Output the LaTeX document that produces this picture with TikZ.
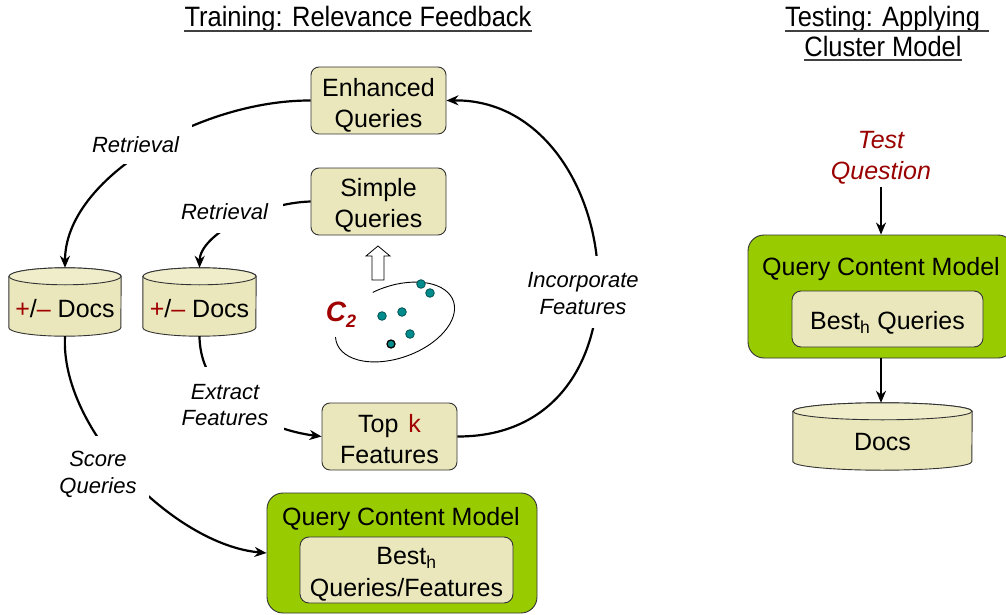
\documentclass[tikz,border=0pt]{standalone}
\usepackage{fontspec}
\setmainfont{Liberation Sans}
\newfontfamily\titlefont[FakeStretch=0.91]{Liberation Sans}
\usetikzlibrary{arrows.meta}
\pgfdeclarelayer{background}
\pgfsetlayers{background,main}

\definecolor{khaki}{RGB}{233,231,187}
\definecolor{khakitop}{RGB}{239,237,202}
\definecolor{qgreen}{RGB}{153,204,0}
\definecolor{dred}{RGB}{160,0,0}
\definecolor{qred}{RGB}{153,0,0}
\definecolor{dotfill}{RGB}{0,140,140}
\definecolor{dotline}{RGB}{0,80,80}

\tikzset{
  boxfont/.style={font=\fontsize{25}{31}\selectfont},
  qbox/.style={boxfont, draw=black!80, line width=0.9pt, fill=khaki,
    rounded corners=8pt, inner sep=0pt,
    minimum width=135pt, minimum height=67pt},
  dbnode/.style={boxfont, inner sep=0pt, text depth=0pt},
  greenbox/.style={draw=black!80, line width=0.9pt, fill=qgreen,
    rounded corners=16pt, inner sep=0pt},
  innerbox/.style={font=\fontsize{25}{32}\selectfont, draw=black!80,
    line width=0.9pt, fill=khaki, rounded corners=9pt, inner sep=0pt},
  gtitle/.style={font=\fontsize{25}{30}\selectfont, inner sep=0pt},
  lab/.style={font=\fontsize{22}{26.5}\selectfont\itshape, fill=white,
    inner sep=0pt},
  conn/.style={line width=2.2pt, -{Stealth[length=12pt,width=10pt]}},
  ttl/.style={font=\titlefont\fontsize{28}{30}\selectfont, inner xsep=0pt,
    inner ysep=0pt, anchor=base},
  uline/.style={draw=black!75, line width=1.3pt},
  dot/.style={fill=dotfill, draw=dotline, line width=0.8pt},
}

% centred lines of text, set a little lower inside their box
\newcommand\lowered[2]{\raisebox{-#1}[\height][\depth]{\begin{tabular}{@{}c@{}}#2\end{tabular}}}

% database cylinder behind a named node; #1 node, #2 half width
\newcommand\dbbody[2]{%
  \begin{pgfonlayer}{background}
    \path[draw=black!80, line width=0.9pt, fill=khaki]
      ([yshift=-8.5pt]#1.north west) -- ([yshift=8.5pt]#1.south west)
      arc[start angle=180, end angle=360, x radius=#2, y radius=8.5pt]
      -- ([yshift=-8.5pt]#1.north east)
      arc[start angle=0, end angle=180, x radius=#2, y radius=8.5pt] -- cycle;
    \path[draw=black!80, line width=0.9pt, fill=khakitop]
      ([yshift=-8.5pt]#1.north) ellipse[x radius=#2, y radius=8.5pt];
  \end{pgfonlayer}}

\begin{document}
\begin{tikzpicture}[x=1pt, y=1pt]
\useasboundingbox (0,0) rectangle (1006,-615);
\clip (0,0) rectangle (1006,-615);

% ---- headings
\node[ttl] (t1) at (358,-27) {Training: Relevance Feedback};
\draw[uline] ([yshift=-4pt]t1.base west) -- ([yshift=-4pt]t1.base east);
\node[ttl] (t2) at (882.5,-27) {Testing: Applying};
\draw[uline] ([yshift=-4pt]t2.base west) -- ([yshift=-4pt,xshift=9pt]t2.base east);
\node[ttl] (t3) at (883,-57) {Cluster Model};
\draw[uline] ([yshift=-3pt]t3.base west) -- ([yshift=-3pt]t3.base east);

% ---- query boxes
\node[qbox] (eq) at (378.5,-100.5) {\lowered{5pt}{Enhanced\\Queries}};
\node[qbox] (sq) at (378.5,-201.5) {\lowered{4pt}{Simple\\Queries}};
\node[qbox] (tk) at (389.5,-436.5)
  {\lowered{5pt}{Top\hspace{10pt}{\color{dred}k}\\Features}};

% ---- document stores
\node[dbnode, minimum width=112pt, minimum height=68pt, text height=30pt]
  (d1) at (65,-302) {{\color{dred}+}/{\color{dred}–} Docs};
\node[dbnode, minimum width=113pt, minimum height=68pt, text height=30pt]
  (d2) at (199.5,-302) {{\color{dred}+}/{\color{dred}–} Docs};
\node[dbnode, minimum width=179pt, minimum height=67pt, text height=28pt]
  (d3) at (882.5,-436.5) {Docs};
\dbbody{d1}{56pt}
\dbbody{d2}{56.5pt}
\dbbody{d3}{89.5pt}

% ---- query content models
\node[greenbox, minimum width=270pt, minimum height=120pt] (qa) at (402,-553) {};
\node[gtitle] (qat) at (401,-519) {Query Content Model};
\node[innerbox, minimum width=213pt, minimum height=66pt] (qai) at (406.5,-570)
  {\lowered{3.7pt}{Best\textsubscript{h}\\Queries/Features}};

\node[greenbox, minimum width=266pt, minimum height=123pt] (qb) at (881,-296.5) {};
\node[gtitle] (qbt) at (881,-269) {Query Content Model};
\node[innerbox, minimum width=191pt, minimum height=56pt] (qbi) at (887.5,-319)
  {\lowered{3.7pt}{Best\textsubscript{h} Queries}};

\node[font=\fontsize{25}{31}\selectfont\itshape, text=qred, align=center, inner sep=3pt]
  (tq) at (881,-157.5) {Test\\Question};

% ---- cluster C2
\node[font=\fontsize{28}{30}\selectfont\bfseries\itshape, text=dred, inner sep=0pt]
  (c2) at (341,-315) {C\raisebox{-6pt}{\fontsize{18}{20}\selectfont 2}};
\begin{scope}[shift={(395,-322)}, rotate=20]
  \draw[line width=0.9pt] (100:62 and 36)
    arc[start angle=100, end angle=-190, x radius=62, y radius=36];
\end{scope}
\foreach \px/\py in {421/284, 430/293, 382/316, 402/312, 410/334}
  \path[dot] (\px,-\py) circle[radius=4.3];
\path[dot, draw=black, line width=1.3pt] (391,-344) circle[radius=4];

% hollow arrow from the cluster up to the simple queries
\path[draw=black, line width=0.8pt, fill=white]
  (378,-246) -- (390,-256) -- (384,-256) -- (384,-280) -- (372,-280)
  -- (372,-256) -- (366,-256) -- cycle;

% ---- connectors
\draw[conn] (eq.west) .. controls (201,-100) and (65,-178) .. (d1.north);
\draw[conn] (sq.west) .. controls (260,-203) and (200,-235) .. (d2.north);
\draw[conn] (d2.south) .. controls (200,-400) and (270,-430) .. (tk.west);
\draw[conn] (d1.south) .. controls (60,-430) and (175,-545) .. (qa.west);
\draw[conn] (tk.east) .. controls (665,-437) and (625,-98) .. (eq.east);
\draw[conn] (tq.south) -- (qb.north);
\draw[conn] (qb.south) -- (qb.south |- d3.north);

% ---- connector labels
\node[lab, minimum width=113pt, minimum height=40pt] (r1) at (135.5,-144)
  {\lowered{3.6pt}{Retrieval}};
\node[lab, minimum width=117pt, minimum height=42pt] (r2) at (224.5,-212)
  {\lowered{2.6pt}{Retrieval}};
\node[lab, minimum width=118pt, minimum height=73pt] (ef) at (225,-403.5)
  {\lowered{3.6pt}{Extract\\Features}};
\node[lab, minimum width=102pt, minimum height=72pt] (sc) at (98,-472)
  {\lowered{2.6pt}{Score\\Queries}};
\node[lab, minimum width=122pt, minimum height=72pt] (inc) at (583,-292)
  {\lowered{3.6pt}{Incorporate\\Features}};
\end{tikzpicture}
\end{document}
